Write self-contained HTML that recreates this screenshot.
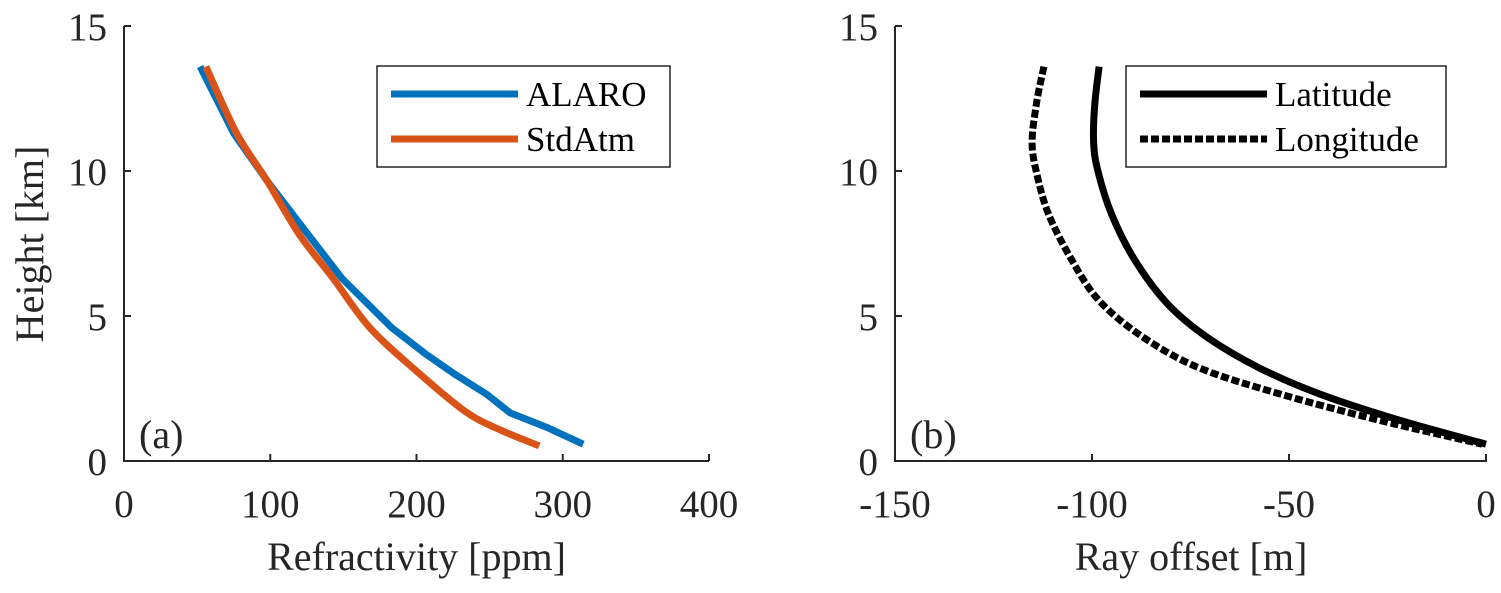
<!DOCTYPE html>
<html><head><meta charset="utf-8"><style>
html,body{margin:0;padding:0;background:#fff}
svg{display:block}
text{font-family:"Liberation Serif","Times New Roman",serif}
</style></head><body>
<svg id="c" width="1501" height="593" viewBox="0 0 1501 593"></svg>
<script>
const heightsA=[13.6,11.3,9.65,8.0,6.3,4.6,3.7,3.0,2.3,1.66,1.14,0.58];
const alaro=[52,75,98,123,149,183,206,226,248,264,290,314];
const heightsS=[13.6,11.3,9.65,7.8,6.3,4.6,3.1,1.72,1.1,0.52];
const stdatm=[56,77,98,120,143,168,200,233,256,284];
const heightsLat=[13.6,12.3,11.0,10,8.5,6.9,5.4,4.25,3.2,2.3,1.4,0.58];
const latitude=[-98.2,-99.3,-99.6,-98.5,-95,-89,-80.7,-70.6,-57.4,-42,-21.8,0];
const heightsLon=[13.6,12.4,11.0,9.9,8.5,6.9,5.5,4.25,3.2,2.3,1.4,0.58];
const longitude=[-112.2,-114,-115.2,-114,-111,-105,-98,-86.8,-72.6,-52,-27,-1];
const yTicks=[0,5,10,15];
const xTicksA=[0,100,200,300,400];
const xTicksB=[-150,-100,-50,0];

const NS="http://www.w3.org/2000/svg";
const svg=document.getElementById('c');
function mk(tag,attrs,parent,txt){const e=document.createElementNS(NS,tag);for(const k in attrs)e.setAttribute(k,attrs[k]);if(txt!==undefined)e.textContent=txt;(parent||svg).appendChild(e);return e;}
const yS=v=>461-v*29;
const xA=v=>124+v*1.4625;
const xB=v=>895+(v+150)*3.94;

function axes(xs,ticks,x0,x1,xlabel,panel,pl){
  const g=mk('g',{});
  
  
  const ax=mk('path',{d:`M${x0},26 L${x0},461 L${x1},461`,fill:'none',stroke:'#262626','stroke-width':2},g);
  
  
  ticks.forEach(t=>{
    const x=xs(t);
    mk('line',{x1:x,y1:461,x2:x,y2:454,stroke:'#262626','stroke-width':2},g);
    const tl=mk('text',{x:x,y:517,'text-anchor':'middle','font-size':39,fill:'#262626'},g,String(t));
    
    
  });
  yTicks.forEach(t=>{
    const y=yS(t);
    mk('line',{x1:x0,y1:y,x2:x0+7,y2:y,stroke:'#262626','stroke-width':2},g);
    const tl=mk('text',{x:x0-17,y:y+14,'text-anchor':'end','font-size':39,fill:'#262626'},g,String(t));
    
    
  });
  const xl=mk('text',{x:(x0+x1)/2,y:570,'text-anchor':'middle','font-size':40,fill:'#262626'},g,xlabel);
  
  
  const p=mk('text',{x:x0+15,y:448,'font-size':40,fill:'#262626'},g,pl);
  
  
}
axes(xA,xTicksA,124,709,'Refractivity [ppm]','a','(a)');
axes(xB,xTicksB,895,1487,'Ray offset [m]','b','(b)');
const yt=mk('text',{x:0,y:0,'text-anchor':'middle','font-size':40,fill:'#262626',transform:'translate(43,244) rotate(-90)'},svg,'Height [km]');



function line(xs,vals,hs,color,dash,name,smooth){
  const P=vals.map((v,i)=>[xs(v),yS(hs[i])]);
  let d='M'+P[0][0].toFixed(1)+','+P[0][1].toFixed(1);
  for(let i=0;i<P.length-1;i++){
    if(!smooth){d+=' L'+P[i+1][0].toFixed(1)+','+P[i+1][1].toFixed(1);continue;}
    const p0=P[Math.max(0,i-1)],p1=P[i],p2=P[i+1],p3=P[Math.min(P.length-1,i+2)];
    const c1=[p1[0]+(p2[0]-p0[0])/6,p1[1]+(p2[1]-p0[1])/6];
    const c2=[p2[0]-(p3[0]-p1[0])/6,p2[1]-(p3[1]-p1[1])/6];
    d+=` C${c1[0].toFixed(1)},${c1[1].toFixed(1)} ${c2[0].toFixed(1)},${c2[1].toFixed(1)} ${p2[0].toFixed(1)},${p2[1].toFixed(1)}`;
  }
  const a={d:d,fill:'none',stroke:color,'stroke-width':7,'stroke-linejoin':'round'};
  if(dash)a['stroke-dasharray']=dash;
  const p=mk('path',a);
  
  
}
line(xA,alaro,heightsA,'#0072BD',null,'series-alaro',false);
line(xA,stdatm,heightsS,'#D95319',null,'series-stdatm',true);
line(xB,latitude,heightsLat,'#000',null,'series-latitude',true);
line(xB,longitude,heightsLon,'#000','8,3','series-longitude',true);

function legend(x0,x1,items,name){
  const g=mk('g',{});
  
  
  mk('rect',{x:x0,y:66,width:x1-x0,height:101,fill:'#fff',stroke:'#262626','stroke-width':1.5},g);
  items.forEach((it,i)=>{
    const y=94+i*45;
    const a={x1:x0+14,y1:y,x2:x0+141,y2:y,stroke:it[1],'stroke-width':7};
    if(it[2])a['stroke-dasharray']=it[2];
    mk('line',a,g);
    const t=mk('text',{x:x0+149,y:y+12,'font-size':35,fill:'#000'},g,it[0]);
    
    
  });
}
legend(377,670,[['ALARO','#0072BD'],['StdAtm','#D95319']],'legend-a');
legend(1126,1446,[['Latitude','#000'],['Longitude','#000','8,3']],'legend-b');
</script>
</body></html>
